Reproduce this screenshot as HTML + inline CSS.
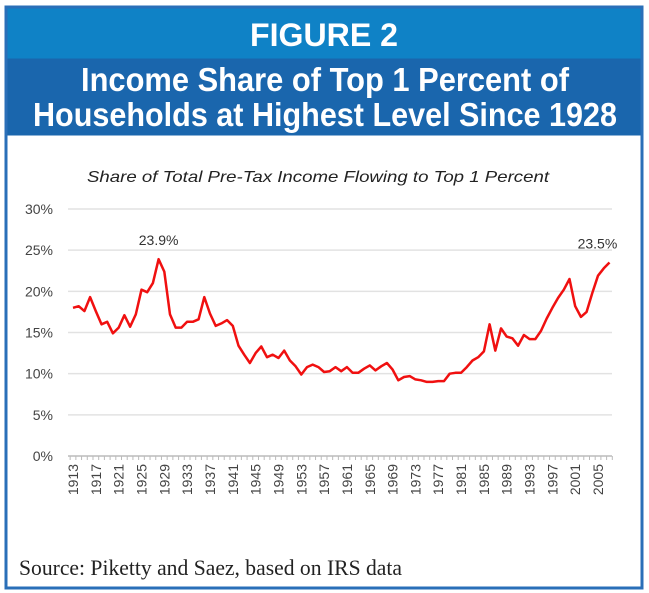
<!DOCTYPE html>
<html><head><meta charset="utf-8"><style>
html,body{margin:0;padding:0;background:#fff;}
svg{display:block;font-family:"Liberation Sans",sans-serif;}
</style></head><body>
<svg id="chart" width="649" height="593" viewBox="0 0 649 593" xmlns="http://www.w3.org/2000/svg">
<rect x="6" y="7" width="636" height="581" fill="#fff" stroke="#2a6fb8" stroke-width="3"/>
<rect x="7.5" y="8.5" width="633" height="50" fill="#0f82c6"/>
<rect x="7.5" y="58.5" width="633" height="77" fill="#1a66ad"/>
<text x="324" y="46" text-anchor="middle" fill="#fff" font-size="32" font-weight="bold" textLength="148" lengthAdjust="spacingAndGlyphs">FIGURE 2</text>
<text x="325" y="91" text-anchor="middle" fill="#fff" font-size="33" font-weight="bold" textLength="488" lengthAdjust="spacingAndGlyphs">Income Share of Top 1 Percent of</text>
<text x="325" y="126" text-anchor="middle" fill="#fff" font-size="33" font-weight="bold" textLength="584" lengthAdjust="spacingAndGlyphs">Households at Highest Level Since 1928</text>
<text x="318" y="182" text-anchor="middle" fill="#222" font-size="16" font-style="italic" textLength="462" lengthAdjust="spacingAndGlyphs">Share of Total Pre-Tax Income Flowing to Top 1 Percent</text>
<g id="grid"></g><g id="axes"></g><g id="series"></g>
<text x="19" y="575" fill="#222" font-size="22" font-family="Liberation Serif, serif" textLength="383" lengthAdjust="spacingAndGlyphs">Source: Piketty and Saez, based on IRS data</text>
</svg>
<script>
const startYear = 1913;
const shares = [18.0,18.2,17.6,19.3,17.6,16.0,16.3,14.9,15.6,17.1,15.7,17.2,20.2,19.9,21.0,23.9,22.4,17.2,15.6,15.6,16.3,16.3,16.6,19.3,17.3,15.8,16.1,16.5,15.8,13.4,12.3,11.3,12.5,13.3,12.0,12.3,11.9,12.8,11.6,10.9,9.9,10.8,11.1,10.8,10.2,10.3,10.8,10.3,10.8,10.1,10.1,10.6,11.0,10.4,10.9,11.3,10.5,9.2,9.6,9.7,9.3,9.2,9.0,9.0,9.1,9.1,10.0,10.1,10.1,10.8,11.6,12.0,12.7,16.0,12.8,15.5,14.5,14.3,13.4,14.7,14.2,14.2,15.2,16.7,18.0,19.2,20.2,21.5,18.2,16.9,17.5,19.8,21.9,22.8,23.5];
const yTicks = [0,5,10,15,20,25,30];
const yTickLabels = ["0%","5%","10%","15%","20%","25%","30%"];
const annotations = [{year:1928,label:"23.9%"},{year:2007,label:"23.5%"}];
const NS="http://www.w3.org/2000/svg";
const x = yr => 73 + (yr-1913)*5.707;
const y = v => 456 - v*(247/30);
function mk(tag, attrs, parent){const e=document.createElementNS(NS,tag);for(const k in attrs)e.setAttribute(k,attrs[k]);document.getElementById(parent).appendChild(e);return e;}
yTicks.forEach((t,i)=>{
  if(t>0){const g=mk('line',{x1:68,x2:612,y1:y(t),y2:y(t),stroke:'#e2e2e2','stroke-width':1.5},'grid');
  
  }
  const l=mk('text',{x:53,y:y(t)+5,'text-anchor':'end','font-size':14,fill:'#444'},'axes');
  l.textContent=yTickLabels[i];
  
  
});
const ax=mk('line',{x1:68,x2:612,y1:y(0),y2:y(0),stroke:'#bbb','stroke-width':1.5},'axes');


const endYear = startYear + shares.length - 1;
for(let yr=startYear; yr<=endYear+1; yr++){
  const tk=mk('line',{x1:x(yr)-2.85,x2:x(yr)-2.85,y1:y(0),y2:y(0)+4,stroke:'#bbb','stroke-width':1},'axes');
  
  
}
for(let yr=startYear; yr<=endYear; yr+=4){
  const t=mk('text',{x:0,y:0,'font-size':14,fill:'#444','text-anchor':'end',transform:`translate(${x(yr)+5},${y(0)+8}) rotate(-90)`},'axes');
  t.textContent=yr;
  
  
}
const pts=shares.map((v,i)=>x(startYear+i).toFixed(1)+','+y(v).toFixed(1)).join(' ');
const pl=mk('polyline',{points:pts,fill:'none',stroke:'#f01010','stroke-width':2.5,'stroke-linejoin':'round'},'series');


annotations.forEach(a=>{
  const v=shares[a.year-startYear];
  const t=mk('text',{x:x(a.year)-(a.year===endYear?12:0),y:y(v)-14,'text-anchor':'middle','font-size':14,fill:'#333'},'series');
  t.textContent=a.label;
  
  
});
</script>
</body></html>
